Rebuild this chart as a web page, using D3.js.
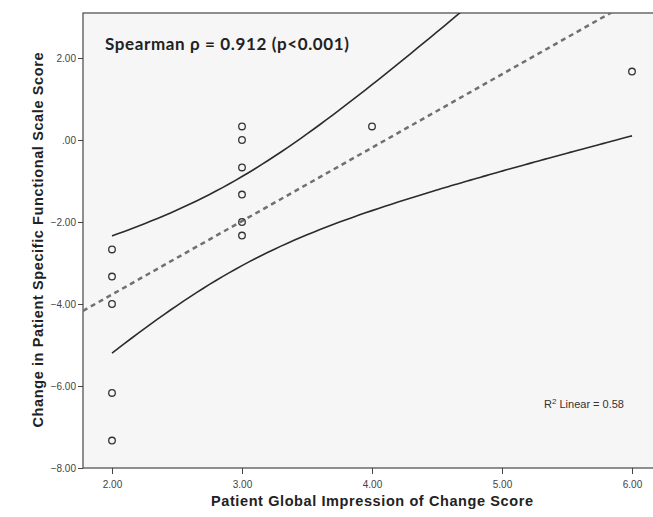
<!DOCTYPE html>
<html>
<head>
<meta charset="utf-8">
<script src="https://cdn.jsdelivr.net/npm/d3@7"></script>
<style>
  body { margin: 0; background: #fff; }
  svg { display: block; }
  .tick text { font-family: "Liberation Sans Narrow", "Liberation Sans", Arial, sans-serif; font-size: 10px; fill: #444; }
  .axis-title { font-family: "Liberation Sans", Arial, sans-serif; font-weight: bold; font-size: 14.5px; fill: #222; }
</style>
</head>
<body>
<svg id="chart" width="653" height="517"></svg>
<script>
/*** DATA ***/
const gicScore  = [2, 2, 2, 2, 2, 3, 3, 3, 3, 3, 3, 4, 6];
const psfsChange = [-2.67, -3.33, -4.00, -6.17, -7.33, 0.33, 0.00, -0.67, -1.33, -2.00, -2.33, 0.33, 1.67];
const xTicks = [2, 3, 4, 5, 6];
const yTicks = [-8, -6, -4, -2, 0, 2];
const tCrit = 2.201; // t(0.975, df = 11)

/*** LAYOUT ***/
const frame = {left: 83, top: 13, right: 680, bottom: 468};

const x = d3.scaleLinear().domain([2, 6]).range([112, 632]);
const y = d3.scaleLinear().domain([-8, 2]).range([468, 58]);

const svg = d3.select('#chart');

svg.append('clipPath').attr('id', 'plot-clip')
  .append('rect')
    .attr('x', frame.left).attr('y', frame.top)
    .attr('width', frame.right - frame.left).attr('height', frame.bottom - frame.top);

// plot background + frame
svg.append('rect')
  .attr('x', frame.left).attr('y', frame.top)
  .attr('width', frame.right - frame.left).attr('height', frame.bottom - frame.top)
  .attr('fill', '#f6f6f6')
  .attr('stroke', '#555').attr('stroke-width', 1.3);

/*** AXES ***/
const fmt = d => d === 0 ? '.00' : d3.format('.2f')(d);

svg.append('g')
    .attr('transform', `translate(${frame.left},0)`)
    .call(d3.axisLeft(y).tickValues(yTicks).tickFormat(fmt).tickSize(5).tickPadding(2))
    .call(g => g.select('.domain').remove())
    .call(g => g.selectAll('.tick line').attr('stroke', '#444'));

svg.append('g')
    .attr('transform', `translate(0,${frame.bottom})`)
    .call(d3.axisBottom(x).tickValues(xTicks).tickFormat(fmt).tickSize(6).tickPadding(7))
    .call(g => g.select('.domain').remove())
    .call(g => g.selectAll('.tick line').attr('stroke', '#444'));

svg.append('text').attr('class', 'axis-title')
  .attr('x', 372).attr('y', 506)
  .attr('text-anchor', 'middle')
  .attr('textLength', 322)
  .text('Patient Global Impression of Change Score');

svg.append('text').attr('class', 'axis-title')
  .attr('transform', 'translate(43,240) rotate(-90)')
  .attr('text-anchor', 'middle')
  .attr('textLength', 375)
  .text('Change in Patient Specific Functional Scale Score');

/*** LINEAR FIT + 95% CI OF MEAN (computed from the points) ***/
const n = gicScore.length;
const mx = d3.mean(gicScore), my = d3.mean(psfsChange);
const sxx = d3.sum(gicScore, v => (v - mx) ** 2);
const sxy = d3.sum(gicScore, (v, i) => (v - mx) * (psfsChange[i] - my));
const syy = d3.sum(psfsChange, v => (v - my) ** 2);
const slope = sxy / sxx, intercept = my - slope * mx;
const sse = d3.sum(gicScore, (v, i) => (psfsChange[i] - (intercept + slope * v)) ** 2);
const se = Math.sqrt(sse / (n - 2));
const fit = v => intercept + slope * v;
const half = v => tCrit * se * Math.sqrt(1 / n + (v - mx) ** 2 / sxx);

const plot = svg.append('g').attr('clip-path', 'url(#plot-clip)');

const xMin = x.invert(frame.left), xMax = x.invert(frame.right);
const line = d3.line().x(d => x(d[0])).y(d => y(d[1]));

plot.append('path')
  .attr('d', line([[xMin, fit(xMin)], [xMax, fit(xMax)]]))
  .attr('fill', 'none')
  .attr('stroke', '#707070')
  .attr('stroke-width', 2.5)
  .attr('stroke-dasharray', '5,4');

const grid = d3.range(2, 6.0001, 0.05);
const band = d3.line().x(d => x(d.v)).y(d => y(d.y)).curve(d3.curveMonotoneX);
[1, -1].forEach(sign => {
  plot.append('path')
    .attr('d', band(grid.map(v => ({v, y: fit(v) + sign * half(v)}))))
    .attr('fill', 'none')
    .attr('stroke', '#2b2b2b')
    .attr('stroke-width', 1.6);
});

/*** POINTS ***/
plot.selectAll('circle.pt')
  .data(gicScore.map((v, i) => [v, psfsChange[i]]))
  .enter().append('circle')
    .attr('class', 'pt')
    .attr('cx', d => x(d[0]))
    .attr('cy', d => y(d[1]))
    .attr('r', 3.3)
    .attr('fill', 'none')
    .attr('stroke', '#333')
    .attr('stroke-width', 1.3);

/*** ANNOTATIONS ***/
svg.append('text')
  .attr('x', 105).attr('y', 50)
  .attr('font-family', 'Lato, "Open Sans", sans-serif')
  .attr('font-weight', 'bold')
  .attr('font-size', 17)
  .attr('textLength', 244)
  .attr('fill', '#222')
  .text('Spearman ρ = 0.912 (p<0.001)');

const r2 = svg.append('text')
  .attr('x', 544).attr('y', 408)
  .attr('font-family', '"Liberation Sans Narrow", "Liberation Sans", Arial, sans-serif')
  .attr('font-size', 11)
  .attr('fill', '#333');
r2.append('tspan').text('R');
r2.append('tspan').attr('dy', -4).attr('font-size', 8).text('2');
r2.append('tspan').attr('dy', 4).text(' Linear = ' + d3.format('.2f')(sxy * sxy / (sxx * syy)));
</script>
</body>
</html>
